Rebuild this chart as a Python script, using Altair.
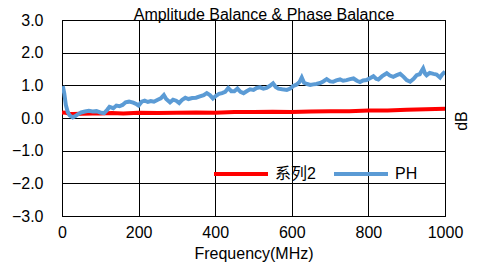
import altair as alt
import pandas as pd

ph_freq = [2, 6, 10, 15, 20, 28, 35, 42, 50, 60, 70, 80, 90, 100, 110, 118, 124, 134, 142, 150,
           158, 166, 175, 186, 195, 200, 208, 216, 224, 232, 240, 250, 258, 266, 272, 282, 290, 298,
           306, 314, 322, 330, 340, 350, 360, 370, 378, 386, 394, 402, 410, 418, 426, 434, 442, 450,
           458, 466, 474, 482, 491, 500, 508, 517, 526, 534, 542, 551, 558, 565, 575, 587, 596, 604,
           612, 620, 626, 632, 640, 648, 656, 664, 674, 682, 691, 700, 708, 716, 726, 734, 743, 752,
           761, 770, 778, 786, 795, 804, 813, 820, 826, 836, 848, 856, 865, 874, 883, 892, 900, 909,
           918, 926, 934, 940, 943, 948, 952, 960, 970, 978, 987, 993, 1000]
ph_vals = [0.98, 0.75, 0.40, 0.18, 0.08, 0.02, 0.06, 0.12, 0.17, 0.20, 0.22, 0.20, 0.21, 0.17, 0.15,
           0.25, 0.34, 0.30, 0.38, 0.36, 0.40, 0.48, 0.50, 0.47, 0.42, 0.38, 0.50, 0.53, 0.49, 0.52,
           0.50, 0.56, 0.60, 0.70, 0.58, 0.48, 0.56, 0.53, 0.46, 0.56, 0.62, 0.58, 0.61, 0.62, 0.66,
           0.70, 0.76, 0.70, 0.60, 0.68, 0.74, 0.76, 0.80, 0.92, 0.82, 0.82, 0.90, 0.80, 0.76, 0.82,
           0.88, 0.86, 0.92, 0.94, 0.90, 0.92, 0.98, 1.06, 0.95, 0.90, 0.88, 0.86, 0.90, 0.98, 1.02,
           1.10, 1.24, 1.08, 1.04, 1.01, 1.03, 1.04, 1.07, 1.12, 1.19, 1.12, 1.11, 1.15, 1.18, 1.14,
           1.16, 1.19, 1.21, 1.14, 1.10, 1.15, 1.16, 1.22, 1.28, 1.20, 1.18, 1.28, 1.37, 1.30, 1.26,
           1.31, 1.35, 1.26, 1.16, 1.11, 1.20, 1.31, 1.34, 1.46, 1.52, 1.36, 1.31, 1.38, 1.35, 1.33,
           1.24, 1.34, 1.42]

amp_freq = [0, 10, 20, 30, 50, 80, 100, 130, 160, 200, 250, 300, 350, 400, 450, 500, 550, 600,
            650, 700, 750, 800, 850, 900, 950, 1000]
amp_vals = [0.17, 0.16, 0.13, 0.12, 0.13, 0.14, 0.14, 0.15, 0.14, 0.16, 0.15, 0.16, 0.17, 0.16,
            0.18, 0.18, 0.19, 0.18, 0.20, 0.21, 0.21, 0.23, 0.23, 0.25, 0.27, 0.28]

series_names = ["系列2", "PH"]
series_colors = ["#FF0000", "#5B9BD5"]
x_ticks = [0, 200, 400, 600, 800, 1000]
y_ticks = [-3, -2, -1, 0, 1, 2, 3]

df = pd.concat([
    pd.DataFrame({"f": amp_freq, "v": amp_vals, "s": series_names[0], "o": 0}),
    pd.DataFrame({"f": ph_freq, "v": ph_vals, "s": series_names[1], "o": 1}),
])

FONT = "Liberation Sans, Arial, Noto Sans CJK SC"

lines = alt.Chart(df).mark_line(strokeWidth=4, clip=True).encode(
    x=alt.X("f:Q", scale=alt.Scale(domain=[0, 1000], nice=False),
            axis=alt.Axis(values=x_ticks, format="d", title="Frequency(MHz)", ticks=False,
                          tickSize=0, labelPadding=8, titlePadding=5, grid=True,
                          labelFlush=False)),
    y=alt.Y("v:Q", scale=alt.Scale(domain=[-3, 3], nice=False),
            axis=alt.Axis(values=y_ticks, format=".1f", title=None, ticks=False, tickSize=0,
                          labelPadding=19, grid=True, labelFlush=False)),
    color=alt.Color("s:N", scale=alt.Scale(domain=series_names, range=series_colors),
                    legend=alt.Legend(title=None, orient="none", legendX=150, legendY=125,
                                      direction="horizontal", symbolType="stroke",
                                      symbolSize=2916, symbolStrokeWidth=4, labelFontSize=16,
                                      labelOffset=5, columnPadding=10, padding=0,
                                      labelFont=FONT, labelColor="#000")),
    order="o:Q",
    detail="s:N",
)

title_df = pd.DataFrame({"t": ["Amplitude Balance & Phase Balance"]})
title = alt.Chart(title_df).mark_text(fontSize=16, font=FONT, baseline="alphabetic",
                                      align="center", color="#000").encode(
    text="t:N", x=alt.value(202), y=alt.value(0))

db_df = pd.DataFrame({"t": ["dB"]})
db = alt.Chart(db_df).mark_text(fontSize=16, font=FONT, angle=270, baseline="middle",
                                align="center", color="#000").encode(
    text="t:N", x=alt.value(400), y=alt.value(101))

chart = alt.layer(lines, title, db).properties(
    width=383, height=196,
    autosize=alt.AutoSizeParams(type="none"),
    padding={"left": 54, "top": 12, "right": 29, "bottom": 51},
).configure_view(stroke="#000", strokeWidth=1).configure_axis(
    domainColor="#000", gridColor="#000", gridWidth=1, labelFont=FONT, titleFont=FONT,
    labelFontSize=16, titleFontSize=16, labelColor="#000", titleColor="#000",
    titleFontWeight="normal", gridOpacity=1,
)

chart.save("out.html", embed_options={"renderer": "svg", "actions": False})
